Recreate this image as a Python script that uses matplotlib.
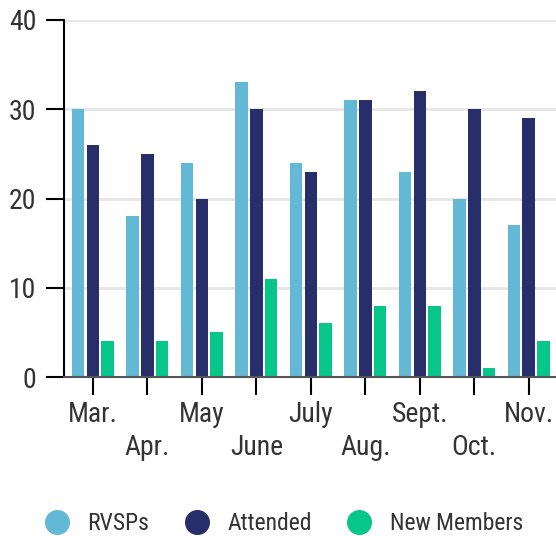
import matplotlib
matplotlib.use("Agg")
import matplotlib.pyplot as plt
from matplotlib import font_manager
from matplotlib.lines import Line2D
import numpy as np

names = {f.name for f in font_manager.fontManager.ttflist}
fam = 'Roboto'
for cand in ['Roboto Condensed', 'Liberation Sans Narrow', 'Roboto']:
    if cand in names:
        fam = cand
        break
plt.rcParams['font.family'] = [fam, 'DejaVu Sans']

months = ['Mar.', 'Apr.', 'May', 'June', 'July', 'Aug.', 'Sept.', 'Oct.', 'Nov.']
rsvps = [30, 18, 24, 33, 24, 31, 23, 20, 17]
attended = [26, 25, 20, 30, 23, 31, 32, 30, 29]
new_members = [4, 4, 5, 11, 6, 8, 8, 1, 4]
series_names = ['RVSPs', 'Attended', 'New Members']
colors = ['#63b8d6', '#272e6a', '#06c68a']

fig = plt.figure(figsize=(5.56, 5.36), dpi=100)
ax = fig.add_axes([64/556, 1-377/536, 1-64/556, (377-20)/536])
x = np.arange(len(months))
w = 0.23
for off, vals, c in zip([-0.27, 0, 0.27], [rsvps, attended, new_members], colors):
    ax.bar(x + off, vals, width=w, color=c, zorder=3)

ax.set_ylim(0, 40)
ax.set_xlim(-0.53, 8.5)
ax.set_yticks([0, 10, 20, 30, 40])
ax.yaxis.grid(True, color='#e6e6e6', linewidth=2, zorder=0)
ax.set_xticks(x)
ax.set_xticklabels([m if i % 2 == 0 else '\n' + m for i, m in enumerate(months)],
                   linespacing=1.3)
ax.tick_params(axis='both', length=13, width=1.5, color='black', labelsize=20,
               labelcolor='#333333')
ax.tick_params(axis='x', pad=4)
ax.tick_params(axis='y', pad=7)
for s in ['top', 'right']:
    ax.spines[s].set_visible(False)
ax.spines['left'].set_color('black')
ax.spines['left'].set_linewidth(1.5)
ax.spines['bottom'].set_color('#555555')
ax.spines['bottom'].set_linewidth(1.5)
ax.spines['bottom'].set_zorder(4)

handles = [Line2D([], [], marker='o', linestyle='none', markersize=17,
                  markerfacecolor=c, markeredgecolor=c) for c in colors]
fig.legend(handles, series_names, loc='center', bbox_to_anchor=(0.5, 1-524/536),
           ncol=3, frameon=False, fontsize=17, handletextpad=0.3, columnspacing=1.0,
           labelcolor='#333333')

fig.savefig('out.png', dpi=100)
